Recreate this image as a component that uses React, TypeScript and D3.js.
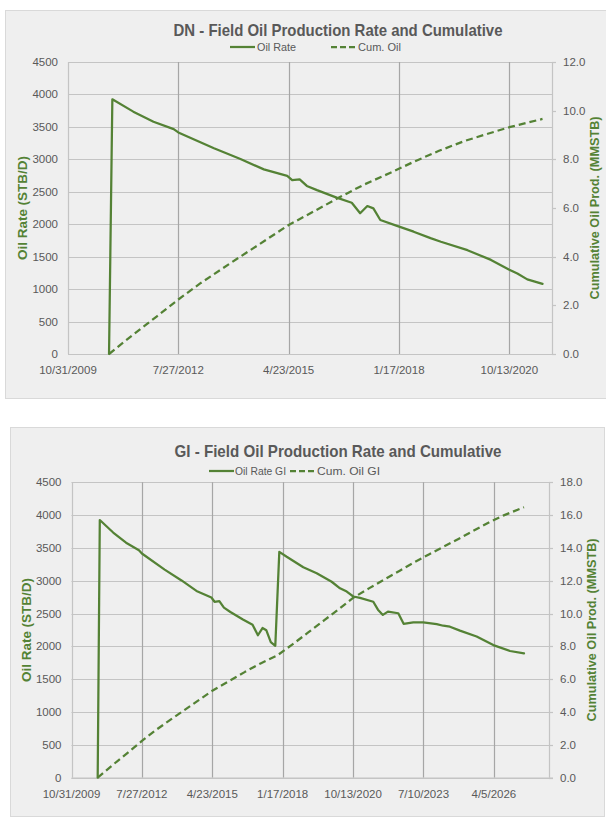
import React from 'react';
import * as d3 from 'd3';

// ---------- DN field ----------
const dnRateDates = [
  '2010-11-07', '2010-12-07', '2011-06-15', '2011-12-15', '2012-06-15', '2012-07-27',
  '2013-06-15', '2014-02-10', '2014-09-10', '2015-04-10', '2015-05-25', '2015-08-01',
  '2015-10-05', '2016-01-05', '2016-07-01', '2016-11-15', '2017-01-30', '2017-04-05',
  '2017-05-30', '2017-08-01', '2017-12-30', '2018-05-30', '2018-10-30', '2019-02-01',
  '2019-09-30', '2020-04-30', '2020-10-13', '2020-12-25', '2021-03-25', '2021-08-10',
];
const dnRateValues = [
  0, 3925, 3735, 3580, 3465, 3415,
  3170, 3005, 2845, 2745, 2680, 2690,
  2590, 2525, 2410, 2330, 2170, 2280,
  2245, 2065, 1975, 1885, 1785, 1730,
  1600, 1450, 1300, 1240, 1150, 1080,
];
const dnCumDates = [
  '2010-11-07', '2011-06-15', '2012-01-15', '2012-07-27', '2013-02-10', '2013-10-31',
  '2014-07-01', '2015-04-23', '2015-12-15', '2016-07-31', '2017-03-01', '2017-11-01',
  '2018-06-01', '2019-01-15', '2019-09-01', '2020-04-01', '2020-10-13', '2021-08-10',
];
const dnCumValues = [
  0.0, 0.8, 1.55, 2.24, 2.9, 3.7,
  4.42, 5.3, 5.88, 6.45, 6.95, 7.45,
  7.9, 8.35, 8.75, 9.05, 9.32, 9.66,
];

// ---------- GI field ----------
const giRateDates = [
  '2010-11-07', '2010-12-07', '2011-06-15', '2011-12-15', '2012-06-15', '2012-07-27',
  '2013-06-15', '2014-02-10', '2014-09-10', '2015-04-10', '2015-05-25', '2015-08-01',
  '2015-10-05', '2016-01-05', '2016-07-01', '2016-11-15', '2017-01-30', '2017-04-05',
  '2017-05-30', '2017-08-01', '2017-10-04', '2017-11-30', '2018-03-15', '2018-11-06',
  '2019-05-15', '2019-12-14', '2020-04-10', '2020-07-15', '2020-10-16', '2021-01-19',
  '2021-07-27', '2021-10-01', '2021-12-10', '2022-02-20', '2022-07-17', '2022-10-01',
  '2023-02-15', '2023-07-06', '2024-01-14', '2024-04-16', '2024-07-20', '2024-12-09',
  '2025-08-03', '2026-03-28', '2026-11-20', '2027-06-07',
];
const giRateValues = [
  0, 3925, 3735, 3580, 3465, 3415,
  3170, 3005, 2845, 2745, 2680, 2690,
  2590, 2525, 2410, 2330, 2170, 2280,
  2245, 2065, 2010, 3440, 3365, 3205,
  3115, 2985, 2885, 2835, 2760, 2740,
  2680, 2560, 2480, 2530, 2505, 2345,
  2367, 2365, 2340, 2315, 2300, 2240,
  2150, 2020, 1930, 1895,
];
const giCumDates = [
  '2010-11-07', '2011-06-15', '2012-01-15', '2012-07-27', '2013-02-10', '2013-10-31',
  '2014-07-01', '2015-04-23', '2015-12-15', '2016-07-31', '2017-03-01', '2017-11-01',
  '2018-06-01', '2019-01-15', '2019-09-01', '2020-04-01', '2020-10-13', '2021-06-01',
  '2022-01-15', '2022-08-01', '2023-03-01', '2023-10-01', '2024-05-01', '2024-12-01',
  '2025-07-01', '2026-02-01', '2026-09-01', '2027-06-07',
];
const giCumValues = [
  0.0, 0.8, 1.55, 2.24, 2.9, 3.7,
  4.42, 5.3, 5.88, 6.45, 6.95, 7.45,
  8.11, 8.85, 9.6, 10.3, 10.96, 11.55,
  12.12, 12.6, 13.12, 13.62, 14.1, 14.58,
  15.08, 15.57, 16.0, 16.48,
];

// ---------- axes ----------
const dnDateTicks = ['10/31/2009', '7/27/2012', '4/23/2015', '1/17/2018', '10/13/2020'];
const giDateTicks = ['10/31/2009', '7/27/2012', '4/23/2015', '1/17/2018', '10/13/2020', '7/10/2023', '4/5/2026'];
const rateTicks = [0, 500, 1000, 1500, 2000, 2500, 3000, 3500, 4000, 4500];
const dnCumTicks = [0, 2, 4, 6, 8, 10, 12];
const giCumTicks = [0, 2, 4, 6, 8, 10, 12, 14, 16, 18];

const parseIso = d3.timeParse('%Y-%m-%d');
const parseUs = d3.timeParse('%m/%d/%Y');

const GREEN = '#548235';
const GRAY_TEXT = '#595959';
const FONT = "'Liberation Sans', Arial, sans-serif";

type ChartCfg = {
  panel: { x: number; y: number; w: number; h: number };
  plot: { l: number; t: number; r: number; b: number };
  title: string;
  titleY: number;
  titleX: number;
  titleLen: number;
  legendY: number;
  legend: { lineX: number; textX: number; label: string; dashed: boolean; len: number }[];
  xEnd: string;
  dateTicks: string[];
  cumTicks: number[];
  cumMax: number;
  rateDates: string[];
  rateValues: number[];
  cumDates: string[];
  cumValues: number[];
  leftTitleX: number;
  rightTitleX: number;
  xLabelY: number;
};

function Chart({ cfg }: { cfg: ChartCfg }) {
  const { plot } = cfg;
  const x = d3
    .scaleTime()
    .domain([parseUs('10/31/2009') as Date, parseIso(cfg.xEnd) as Date])
    .range([plot.l, plot.r]);
  const yRate = d3.scaleLinear().domain([0, 4500]).range([plot.b, plot.t]);
  const yCum = d3.scaleLinear().domain([0, cfg.cumMax]).range([plot.b, plot.t]);

  const rateLine = d3
    .line<[Date, number]>()
    .x((d) => x(d[0]))
    .y((d) => yRate(d[1]));
  const cumLine = d3
    .line<[Date, number]>()
    .x((d) => x(d[0]))
    .y((d) => yCum(d[1]));

  const ratePts = cfg.rateDates.map((d, i) => [parseIso(d) as Date, cfg.rateValues[i]] as [Date, number]);
  const cumPts = cfg.cumDates.map((d, i) => [parseIso(d) as Date, cfg.cumValues[i]] as [Date, number]);

  const midY = (plot.t + plot.b) / 2;

  return (
    <g>
      <rect
        x={cfg.panel.x + 0.5}
        y={cfg.panel.y + 0.5}
        width={cfg.panel.w}
        height={cfg.panel.h}
        fill="#efefef"
        stroke="#d9d9d9"
        strokeWidth={1}
      />
      <text
        x={cfg.titleX}
        y={cfg.titleY}
        textAnchor="middle"
        fontFamily={FONT}
        fontWeight="bold"
        fontSize={17}
        fill={GRAY_TEXT}
        textLength={cfg.titleLen}
        lengthAdjust="spacingAndGlyphs"
      >
        {cfg.title}
      </text>
      {cfg.legend.map((item) => (
        <g key={item.label}>
          <line
            x1={item.lineX}
            x2={item.lineX + 25}
            y1={cfg.legendY}
            y2={cfg.legendY}
            stroke={GREEN}
            strokeWidth={2.25}
            strokeDasharray={item.dashed ? '6 3' : undefined}
          />
          <text
            x={item.textX}
            y={cfg.legendY + 4}
            fontFamily={FONT}
            fontSize={11}
            fill={GRAY_TEXT}
            textLength={item.len}
            lengthAdjust="spacingAndGlyphs"
          >
            {item.label}
          </text>
        </g>
      ))}

      {/* horizontal gridlines */}
      {rateTicks.map((t) => (
        <line
          key={'h' + t}
          x1={plot.l}
          x2={plot.r}
          y1={Math.round(yRate(t)) + 0.5}
          y2={Math.round(yRate(t)) + 0.5}
          stroke="#c4c4c4"
          strokeWidth={1.2}
        />
      ))}
      {/* vertical gridlines */}
      {cfg.dateTicks.map((t, i) => {
        const px = Math.round(x(parseUs(t) as Date)) + 0.5;
        return (
          <line
            key={'v' + t}
            x1={px}
            x2={px}
            y1={plot.t}
            y2={plot.b}
            stroke={i === 0 ? '#c4c4c4' : '#a6a6a6'}
            strokeWidth={1.2}
          />
        );
      })}
      {/* secondary axis line and ticks */}
      <line x1={plot.r + 0.5} x2={plot.r + 0.5} y1={plot.t} y2={plot.b} stroke="#c4c4c4" strokeWidth={1.2} />
      {cfg.cumTicks.map((t) => (
        <line
          key={'rt' + t}
          x1={plot.r}
          x2={plot.r + 4}
          y1={Math.round(yCum(t)) + 0.5}
          y2={Math.round(yCum(t)) + 0.5}
          stroke="#c4c4c4"
          strokeWidth={1.2}
        />
      ))}
      <line x1={plot.l} x2={plot.r + 4} y1={plot.b + 0.5} y2={plot.b + 0.5} stroke="#c4c4c4" strokeWidth={1.2} />

      {/* left tick labels */}
      {rateTicks.map((t) => (
        <text
          key={'lt' + t}
          x={plot.l - 10}
          y={yRate(t) + 4}
          textAnchor="end"
          fontFamily={FONT}
          fontSize={11.5}
          fill={GRAY_TEXT}
        >
          {t}
        </text>
      ))}
      {/* right tick labels */}
      {cfg.cumTicks.map((t) => (
        <text
          key={'rl' + t}
          x={plot.r + 11}
          y={yCum(t) + 4}
          fontFamily={FONT}
          fontSize={11.5}
          fill={GRAY_TEXT}
        >
          {d3.format('.1f')(t)}
        </text>
      ))}
      {/* date tick labels */}
      {cfg.dateTicks.map((t) => (
        <text
          key={'xl' + t}
          x={x(parseUs(t) as Date)}
          y={cfg.xLabelY}
          textAnchor="middle"
          fontFamily={FONT}
          fontSize={11.5}
          fill={GRAY_TEXT}
        >
          {t}
        </text>
      ))}

      {/* axis titles */}
      <text
        transform={`translate(${cfg.leftTitleX},${midY}) rotate(-90)`}
        textAnchor="middle"
        fontFamily={FONT}
        fontWeight="bold"
        fontSize={12.5}
        fill={GREEN}
        textLength={104}
        lengthAdjust="spacingAndGlyphs"
      >
        Oil Rate (STB/D)
      </text>
      <text
        transform={`translate(${cfg.rightTitleX},${midY}) rotate(-90)`}
        textAnchor="middle"
        fontFamily={FONT}
        fontWeight="bold"
        fontSize={12.5}
        fill={GREEN}
        textLength={183}
        lengthAdjust="spacingAndGlyphs"
      >
        Cumulative Oil Prod. (MMSTB)
      </text>

      {/* series */}
      <path
        d={rateLine(ratePts) || ''}
        fill="none"
        stroke={GREEN}
        strokeWidth={2.25}
        strokeLinejoin="round"
        strokeLinecap="round"
      />
      <path
        d={cumLine(cumPts) || ''}
        fill="none"
        stroke={GREEN}
        strokeWidth={2.25}
        strokeDasharray="7 4"
        strokeLinejoin="round"
      />
    </g>
  );
}

const dnCfg: ChartCfg = {
  panel: { x: 5, y: 10, w: 606, h: 388 },
  plot: { l: 68, t: 62, r: 552, b: 354 },
  title: 'DN - Field Oil Production Rate and Cumulative',
  titleX: 338,
  titleY: 36,
  titleLen: 329,
  legendY: 47,
  legend: [
    { lineX: 230, textX: 257, label: 'Oil Rate', dashed: false, len: 39 },
    { lineX: 331, textX: 358, label: 'Cum. Oil', dashed: true, len: 43 },
  ],
  xEnd: '2021-11-04',
  dateTicks: dnDateTicks,
  cumTicks: dnCumTicks,
  cumMax: 12,
  rateDates: dnRateDates,
  rateValues: dnRateValues,
  cumDates: dnCumDates,
  cumValues: dnCumValues,
  leftTitleX: 27,
  rightTitleX: 599,
  xLabelY: 374,
};

const giCfg: ChartCfg = {
  panel: { x: 10, y: 427, w: 594, h: 389 },
  plot: { l: 71.5, t: 482.3, r: 549, b: 777.7 },
  title: 'GI - Field Oil Production Rate and Cumulative',
  titleX: 338,
  titleY: 457,
  titleLen: 327,
  legendY: 471,
  legend: [
    { lineX: 209, textX: 235, label: 'Oil Rate GI', dashed: false, len: 51 },
    { lineX: 290, textX: 317, label: 'Cum. Oil GI', dashed: true, len: 63 },
  ],
  xEnd: '2028-05-27',
  dateTicks: giDateTicks,
  cumTicks: giCumTicks,
  cumMax: 18,
  rateDates: giRateDates,
  rateValues: giRateValues,
  cumDates: giCumDates,
  cumValues: giCumValues,
  leftTitleX: 31,
  rightTitleX: 596,
  xLabelY: 798,
};

export default function App() {
  return (
    <svg
      width={606}
      height={818}
      viewBox="0 0 606 818"
      style={{ position: 'fixed', left: 0, top: 0, background: '#ffffff' }}
    >
      <rect x={0} y={0} width={606} height={818} fill="#ffffff" />
      <Chart cfg={dnCfg} />
      <Chart cfg={giCfg} />
    </svg>
  );
}
